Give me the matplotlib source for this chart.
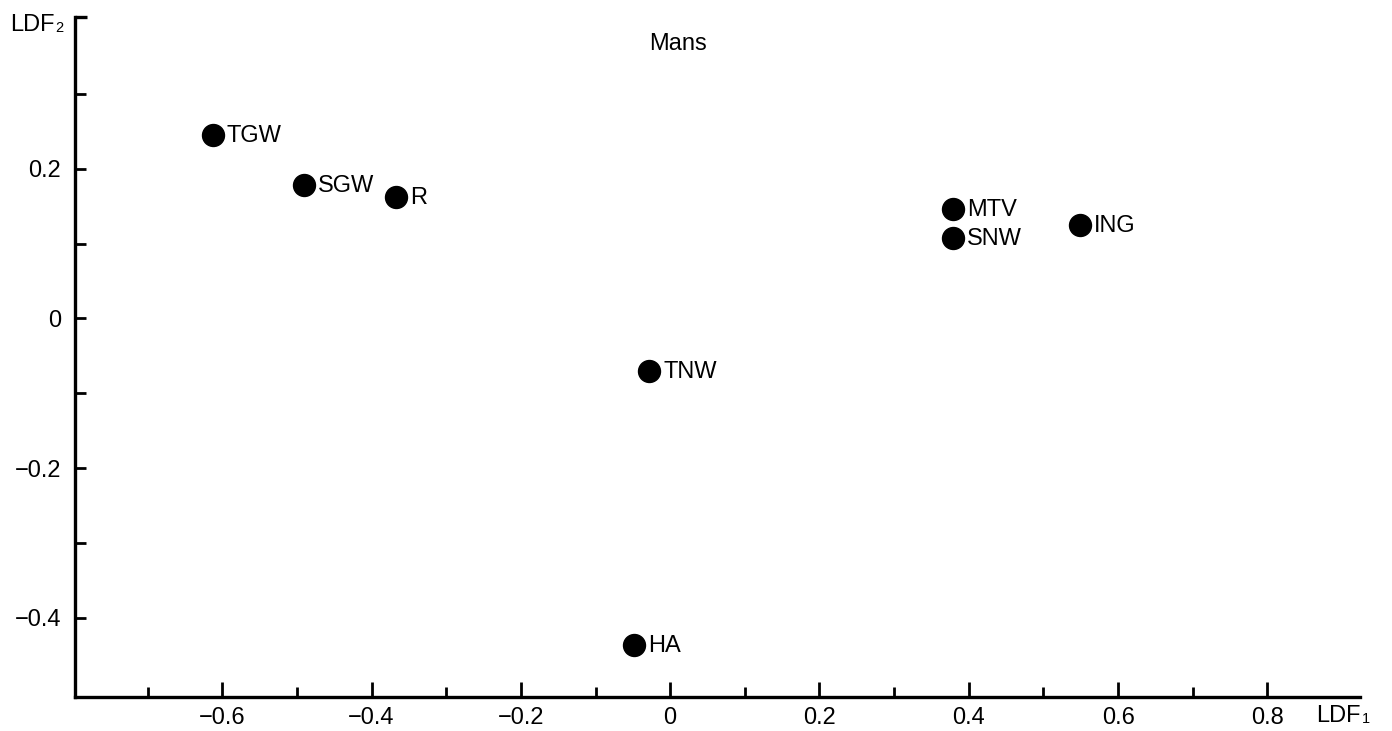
import matplotlib
matplotlib.use("Agg")
import matplotlib.pyplot as plt
from matplotlib.ticker import FixedLocator

plt.rcParams['font.family'] = ['Liberation Sans', 'DejaVu Sans']

groups = ["TGW", "SGW", "R", "MTV", "SNW", "ING", "TNW", "HA"]
ldf1 = [-0.613, -0.491, -0.367, 0.379, 0.379, 0.549, -0.028, -0.048]
ldf2 = [0.245, 0.178, 0.163, 0.146, 0.107, 0.125, -0.070, -0.436]

x_major = [-0.6, -0.4, -0.2, 0.0, 0.2, 0.4, 0.6, 0.8]
x_labels = ["\u22120.6", "\u22120.4", "\u22120.2", "0", "0.2", "0.4", "0.6", "0.8"]
x_minor = [-0.7, -0.5, -0.3, -0.1, 0.1, 0.3, 0.5, 0.7]
y_major = [0.2, 0.0, -0.2, -0.4]
y_labels = ["0.2", "0", "\u22120.2", "\u22120.4"]
y_minor = [0.3, 0.1, -0.1, -0.3]

FS = 17

fig = plt.figure(figsize=(13.92, 7.31), dpi=100)
ax = fig.add_axes([0.054, 0.0465, 0.923, 0.9303])

xmin, xmax = -0.797, 0.924
ymin, ymax = -0.506, 0.403
ax.set_xlim(xmin, xmax)
ax.set_ylim(ymin, ymax)

ax.scatter(ldf1, ldf2, s=250, color="black", zorder=3, clip_on=False)
for name, x, y in zip(groups, ldf1, ldf2):
    ax.annotate(name, (x, y), xytext=(14, -1), textcoords="offset pixels",
                ha="left", va="center", fontsize=FS, color="black")

for side in ("top", "right"):
    ax.spines[side].set_visible(False)
for side in ("left", "bottom"):
    ax.spines[side].set_linewidth(2.4)

ax.xaxis.set_major_locator(FixedLocator(x_major))
ax.set_xticklabels(x_labels)
ax.xaxis.set_minor_locator(FixedLocator(x_minor))
ax.yaxis.set_major_locator(FixedLocator(y_major))
ax.set_yticklabels(y_labels)
ax.yaxis.set_minor_locator(FixedLocator(y_minor))

ax.tick_params(axis="x", which="major", direction="in", length=11, width=2,
               labelsize=FS, pad=7)
ax.tick_params(axis="x", which="minor", direction="in", length=7, width=2)
ax.tick_params(axis="y", which="major", direction="in", length=8, width=2,
               labelsize=FS, pad=10)
ax.tick_params(axis="y", which="minor", direction="in", length=8, width=2)

# cap at the top of the vertical axis
ax.plot([xmin, xmin + 0.016], [ymax, ymax], color="black", lw=2.4,
        clip_on=False, solid_capstyle="butt")

# axis names with small subscripts
SUB = FS * 0.62
ax.annotate("LDF", (xmax, ymin), xytext=(-44, -19), textcoords="offset pixels",
            ha="left", va="center", fontsize=FS, annotation_clip=False)
ax.annotate("1", (xmax, ymin), xytext=(2, -22), textcoords="offset pixels",
            ha="left", va="center", fontsize=SUB, annotation_clip=False)
ax.annotate("LDF", (xmin, ymax), xytext=(-21, -8), textcoords="offset pixels",
            ha="right", va="center", fontsize=FS, annotation_clip=False)
ax.annotate("2", (xmin, ymax), xytext=(-20, -11), textcoords="offset pixels",
            ha="left", va="center", fontsize=SUB, annotation_clip=False)
ax.text(0.01, 0.367, "Mans", ha="center", va="center", fontsize=FS)

fig.savefig("out.png", dpi=100)
